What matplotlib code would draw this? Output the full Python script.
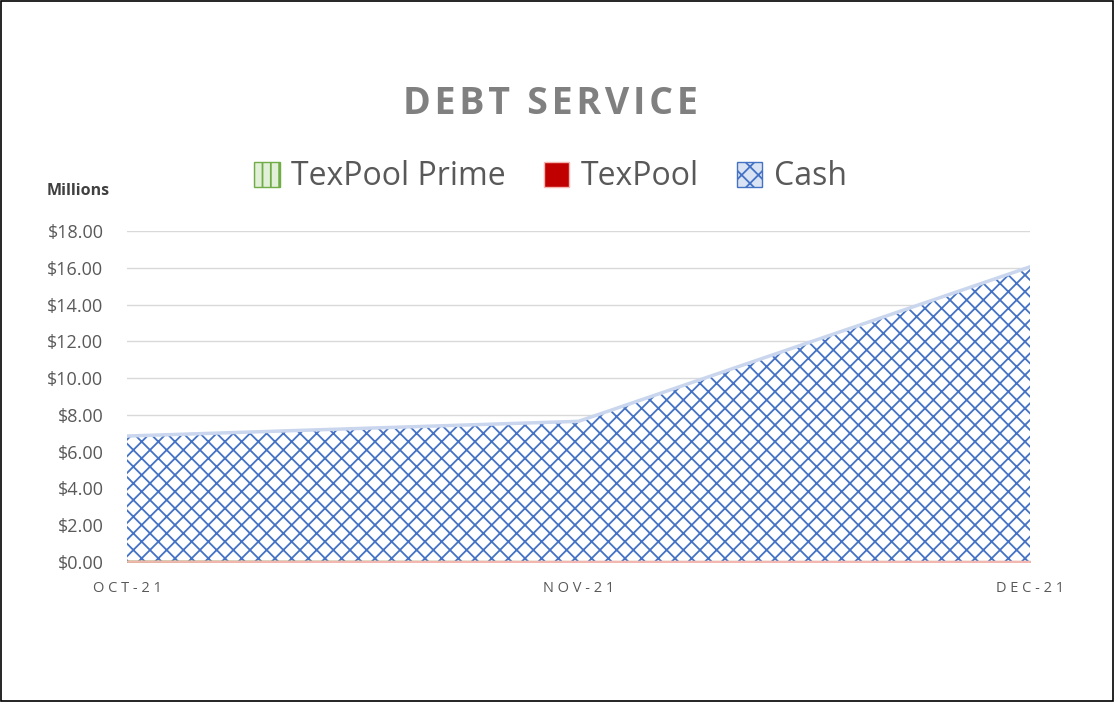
import matplotlib.pyplot as plt
from matplotlib.patches import Patch

months = ["OCT-21", "NOV-21", "DEC-21"]
# values in millions, stacked bottom to top
texpool_prime = [0.05, 0.03, 0.03]
texpool = [0.0, 0.02, 0.02]
cash = [6.80, 7.60, 16.00]

plt.rcParams["font.family"] = ["Open Sans", "DejaVu Sans"]
plt.rcParams["hatch.linewidth"] = 1.3
plt.rcParams["hatch.color"] = "#4472C4"

fig = plt.figure(figsize=(11.14, 7.02), dpi=100)
ax = fig.add_axes([0.114, 0.1994, 0.8106, 0.4716])

x = list(range(len(months)))
base2 = [a + b for a, b in zip(texpool_prime, texpool)]
top = [a + b for a, b in zip(base2, cash)]

ax.fill_between(x, 0, texpool_prime, facecolor="#70AD47", edgecolor="#70AD47", lw=1.5, zorder=3)
ax.fill_between(x, texpool_prime, base2, facecolor="#C00000", edgecolor="#F4B6B0", lw=1.2, zorder=3)
ax.fill_between(x, base2, top, facecolor="white", edgecolor="#4472C4", hatch="xx", lw=0, zorder=2)
ax.plot(x, top, color="#C9D6EE", lw=2.5, zorder=3)

ax.set_xlim(0, 2)
ax.set_ylim(0, 18)
ax.set_yticks(range(0, 19, 2))
ax.set_yticklabels([f"${v:.2f}" for v in range(0, 19, 2)], fontsize=13, color="#595959")
ax.set_xticks(x)
ax.set_xticklabels([" ".join(m) for m in months], fontsize=10.5, color="#595959")
ax.tick_params(length=0)
ax.tick_params(axis="y", pad=17)
ax.tick_params(axis="x", pad=14)
ax.grid(axis="y", color="#D9D9D9", lw=1)
ax.set_axisbelow(True)
for s in ax.spines.values():
    s.set_visible(False)

fig.text(0.042, 0.722, "Millions", fontsize=11.5, fontweight="bold", color="#404040")
title = "\u200a".join("DEBT") + "\u200a \u200a" + "\u200a".join("SERVICE")
fig.text(0.494, 0.852, title, fontsize=27, fontweight="bold",
         color="#808080", ha="center", va="center")

handles = [
    Patch(facecolor="#E2F0D9", edgecolor="#70AD47", hatch="||"),
    Patch(facecolor="#C00000", edgecolor="#F4B6B0"),
    Patch(facecolor="#DAE3F3", edgecolor="#4472C4", hatch="xx"),
]
fig.legend(handles, ["TexPool Prime", "TexPool", "Cash"], loc="center", bbox_to_anchor=(0.494, 0.748),
           ncol=3, frameon=False, fontsize=23, labelcolor="#595959", handlelength=0.8, handleheight=0.8,
           handletextpad=0.35, columnspacing=1.2)

fig.add_artist(plt.Rectangle((0.001, 0.001), 0.998, 0.998, transform=fig.transFigure,
                             fill=False, edgecolor="black", lw=1.2))

fig.savefig("out.png", dpi=100)
